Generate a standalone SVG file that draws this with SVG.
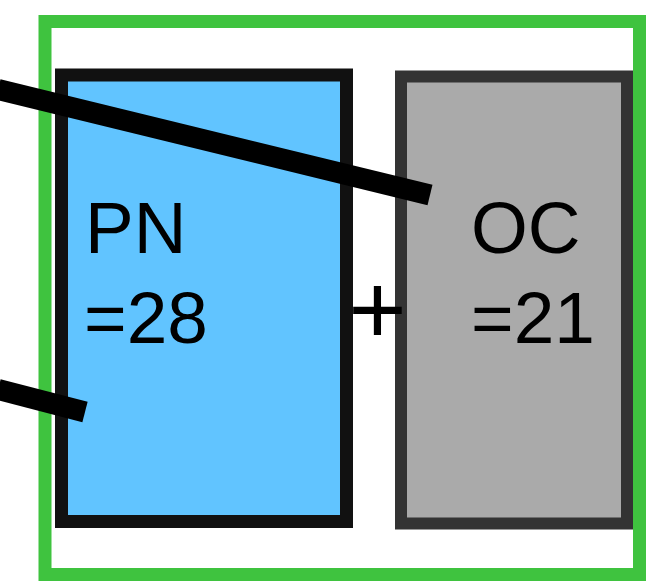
<svg xmlns="http://www.w3.org/2000/svg" width="648" height="588" viewBox="0 0 648 588">
<style>
text{font-family:"Liberation Sans",Arial,sans-serif;fill:#000}
.lbl{font-size:73px}
.conn{stroke:#000;stroke-width:21;stroke-linecap:butt;fill:none}
</style>
<rect width="648" height="588" fill="#fff"/>
<g id="group">
<rect x="45" y="21.5" width="594.5" height="553" fill="#fff" stroke="#3fc33f" stroke-width="13"/>
</g>
<g id="pn">
<rect x="61.5" y="75" width="285" height="446.5" fill="#61c4ff" stroke="#111" stroke-width="13"/>
<text class="lbl" x="85" y="253">PN</text>
<text class="lbl" x="84" y="343">=28</text>
</g>
<g id="oc">
<rect x="401" y="76.5" width="226" height="447" fill="#aaa" stroke="#333" stroke-width="12"/>
<text class="lbl" x="471" y="253">OC</text>
<text class="lbl" x="471" y="343">=21</text>
</g>
<text x="377.5" y="344" font-size="100" text-anchor="middle">+</text>
<g id="connectors">
<line class="conn" x1="-2" y1="89.5" x2="430" y2="195"/>
<line class="conn" x1="-2" y1="389.5" x2="85" y2="412"/>
</g>
</svg>
